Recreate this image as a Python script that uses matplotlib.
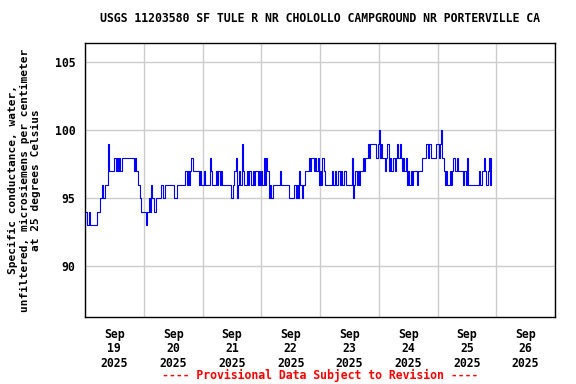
"""USGS 11203580 specific conductance, provisional 30-min series (Sep 19-25 2025)."""
import numpy as np
import pandas as pd
import matplotlib
matplotlib.use("Agg")
import matplotlib.pyplot as plt
import matplotlib.dates as mdates

TITLE = "USGS 11203580 SF TULE R NR CHOLOLLO CAMPGROUND NR PORTERVILLE CA"
YLABEL = ("Specific conductance, water,\n"
          "unfiltered, microsiemens per centimeter\n"
          "at 25 degrees Celsius")
FOOTER = "---- Provisional Data Subject to Revision ----"

START = "2025-09-19 00:00"
STEP = "30min"
# values, one list per day (half-hour steps)
SEP19 = [94, 94, 93, 94, 93, 93, 93, 93, 93, 93, 94, 94, 95, 95, 96, 95,
         96, 96, 96, 99, 97, 97, 97, 97, 98, 97, 98, 97, 98, 97, 98, 98,
         98, 98, 98, 98, 98, 98, 98, 98, 97, 98, 97, 96, 96, 95, 94, 94]
SEP20 = [94, 94, 93, 94, 95, 94, 96, 95, 94, 94, 95, 95, 95, 95, 96, 96,
         95, 96, 96, 96, 96, 96, 96, 96, 96, 95, 95, 96, 96, 96, 96, 96,
         96, 96, 97, 96, 97, 96, 97, 98, 97, 97, 97, 97, 97, 96, 97, 96]
SEP21 = [96, 97, 96, 96, 96, 96, 98, 97, 96, 96, 96, 97, 96, 97, 96, 97,
         96, 96, 96, 96, 96, 96, 96, 95, 95, 96, 97, 98, 95, 96, 97, 96,
         99, 97, 96, 96, 97, 96, 97, 97, 96, 97, 96, 97, 97, 96, 97, 96]
SEP22 = [97, 96, 98, 96, 98, 97, 95, 96, 95, 95, 96, 96, 96, 96, 96, 97,
         96, 96, 96, 96, 96, 96, 96, 95, 95, 95, 95, 96, 95, 96, 95, 97,
         96, 95, 96, 96, 97, 97, 97, 98, 97, 98, 98, 97, 98, 97, 98, 96]
SEP23 = [97, 96, 98, 97, 96, 96, 96, 96, 96, 96, 97, 96, 97, 96, 96, 97,
         96, 97, 96, 96, 97, 96, 96, 96, 96, 96, 98, 95, 96, 97, 96, 97,
         96, 97, 97, 98, 97, 98, 98, 99, 98, 99, 99, 99, 99, 99, 98, 99]
SEP24 = [100, 98, 99, 98, 98, 97, 98, 99, 97, 98, 97, 97, 98, 97, 98, 99,
         98, 99, 98, 97, 98, 97, 98, 96, 97, 96, 97, 96, 97, 97, 97, 96,
         97, 97, 97, 98, 98, 98, 98, 99, 98, 99, 99, 98, 98, 98, 98, 99]
SEP25 = [99, 98, 99, 100, 98, 97, 96, 97, 96, 96, 97, 96, 97, 98, 97, 97,
         98, 97, 97, 97, 97, 96, 97, 96, 98, 96, 96, 96, 96, 96, 96, 96,
         96, 96, 97, 96, 97, 97, 98, 97, 96, 97, 98, 96, 98]

DAY_LABELS = ["Sep\n19\n2025", "Sep\n20\n2025", "Sep\n21\n2025", "Sep\n22\n2025",
              "Sep\n23\n2025", "Sep\n24\n2025", "Sep\n25\n2025", "Sep\n26\n2025"]
YTICKS = [90, 95, 100, 105]

FONT = "DejaVu Sans Mono"

vals = np.array(SEP19 + SEP20 + SEP21 + SEP22 + SEP23 + SEP24 + SEP25, float)
t = pd.date_range(START, periods=len(vals), freq=STEP)

fig = plt.figure(figsize=(5.76, 3.84), dpi=100)
ax = fig.add_axes([85 / 576, (384 - 316.6) / 384, 470 / 576, (316.6 - 43.3) / 384])

ax.plot(t, vals, drawstyle="steps-post", color="#0000FF", lw=0.8)

x0 = pd.Timestamp("2025-09-19")
x1 = pd.Timestamp("2025-09-27")
ax.set_xlim(x0, x1)
ax.set_ylim(86.3, 106.4)

# gridlines at midnight, labels centred on noon
ax.set_xticks(pd.date_range(x0, x1, freq="D"))
ax.set_xticklabels([])
ax.set_xticks(pd.date_range("2025-09-19 12:00", periods=8, freq="D"), minor=True)
ax.set_xticklabels(DAY_LABELS, minor=True, family=FONT, fontweight="bold",
                   fontsize=8.3, linespacing=1.15)
ax.set_yticks(YTICKS)
ax.set_yticklabels([str(v) for v in YTICKS], family=FONT, fontweight="bold",
                   fontsize=8.3)
ax.tick_params(axis="both", which="both", length=0)
ax.tick_params(axis="x", which="minor", pad=8)
ax.tick_params(axis="y", pad=7)
ax.grid(True, which="major", color="#CCCCCC", lw=1.0)
ax.set_axisbelow(True)
for sp in ax.spines.values():
    sp.set_color("black")
    sp.set_linewidth(1.0)

ax.set_title(TITLE, family=FONT, fontweight="bold", fontsize=8.3, pad=15)
ax.set_ylabel(YLABEL, family=FONT, fontweight="bold", fontsize=8.0,
              linespacing=1.15, labelpad=10)
fig.text(320 / 576, 1 - 375 / 384, FOOTER, ha="center", va="center",
         family=FONT, fontweight="bold", fontsize=8.3, color="red")

fig.savefig("out.png", dpi=100)
